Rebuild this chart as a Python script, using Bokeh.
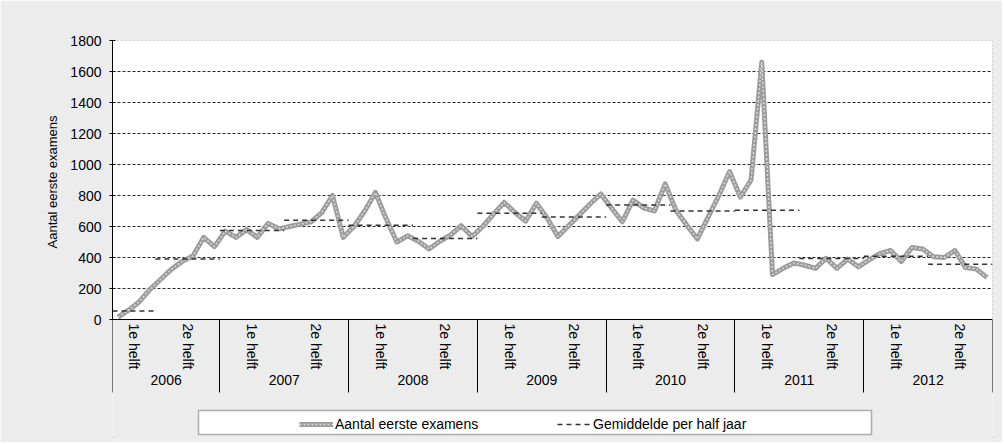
import numpy as np
import pandas as pd
from bokeh.plotting import figure
from bokeh.models import (Range1d, FixedTicker, LinearAxis, ColumnDataSource,
                          Legend, LegendItem, BoxAnnotation, Title)
from bokeh.embed import file_html
from bokeh.resources import INLINE

# ---------------- data ----------------
years = ["2006", "2007", "2008", "2009", "2010", "2011", "2012"]
half_names = ["1e helft", "2e helft"]
months_per_half = [4, 6, 6, 6, 6, 6, 6, 6, 6, 6, 6, 6, 6, 6]
months = [str(m) for m in pd.period_range("2006-03", "2012-12", freq="M")]

aantal = [
    # 2006 (mrt-dec)
    15, 60, 115, 195, 260, 325, 375, 410, 530, 470,
    # 2007
    570, 530, 580, 530, 620, 585, 600, 615, 630, 690, 800, 530,
    # 2008
    600, 700, 820, 650, 500, 540, 505, 455, 505, 545, 605, 535,
    # 2009
    600, 680, 755, 690, 635, 750, 655, 535, 605, 675, 745, 810,
    # 2010
    720, 630, 770, 720, 700, 875, 705, 610, 520, 660, 800, 955,
    # 2011
    790, 900, 1660, 290, 330, 365, 350, 330, 395, 330, 390, 340,
    # 2012
    385, 425, 445, 375, 465, 455, 405, 400, 445, 335, 325, 270,
]

gemiddelde = [55, 390, 575, 640, 608, 522, 686, 662, 738, 700, 705, 393, 408, 356]

y_ticks = list(range(0, 1801, 200))

FONT = "Liberation Sans"

# ---------------- layout constants (pixels) ----------------
W, H = 1002, 442
F_LEFT, F_RIGHT, F_TOP, F_BOTTOM = 112, 992, 40, 440   # frame incl. category area
ZERO_PX = 319                                          # pixel row of value 0
YEAR_AXIS_PX = 370                                     # pixel row of year axis
YMAX = 1800

# ---------------- derived positions ----------------
n = len(months)
xpos = np.arange(n) + 0.5
bounds = np.concatenate([[0], np.cumsum(months_per_half)])
half_start = bounds[:-1]
half_end = bounds[1:]
half_centers = (half_start + half_end) / 2
half_labels = [half_names[k % 2] for k in range(len(months_per_half))]
year_bounds = bounds[::2]
year_centers = (year_bounds[:-1] + year_bounds[1:]) / 2


def px_to_x(px):
    return (px - F_LEFT) * n / (F_RIGHT - F_LEFT)


def px_to_y(py):
    return (ZERO_PX - py) * YMAX / (ZERO_PX - F_TOP)


# ---------------- figure ----------------
p = figure(width=W, height=H, x_range=Range1d(0, n),
           y_range=Range1d(px_to_y(F_BOTTOM), YMAX),
           output_backend="svg", toolbar_location=None, x_axis_type=None,
           min_border_left=F_LEFT, min_border_right=W - F_RIGHT,
           min_border_top=F_TOP, min_border_bottom=H - F_BOTTOM)
p.border_fill_color = "#ececec"
p.background_fill_color = "#ececec"
p.outline_line_color = None
p.styles = {"outline": "1px solid #222", "outline-offset": "-5px"}

# white plot area with dotted border
plot_area = BoxAnnotation(left=0, right=n, bottom=0, top=YMAX, level="image",
                          fill_color="white", fill_alpha=1,
                          line_color="black", line_width=1, line_dash="2 2")
p.add_layout(plot_area)

# y axis
p.yaxis.ticker = FixedTicker(ticks=y_ticks)
p.yaxis.bounds = (0, YMAX)
p.yaxis.major_label_text_font = FONT
p.yaxis.major_label_text_font_size = "14px"
p.yaxis.major_label_text_color = "black"
p.yaxis.major_label_standoff = 8
p.yaxis.major_tick_in = 3
p.yaxis.major_tick_out = 3
p.yaxis.major_tick_line_color = "black"
p.yaxis.minor_tick_line_color = None
p.yaxis.axis_line_color = "black"

# y axis title, aligned with the value part of the axis
y_title = Title(text="Aantal eerste examens", align="right", offset=75,
                text_font=FONT, text_font_size="13px", text_font_style="normal",
                text_color="black", standoff=16)
p.add_layout(y_title, "left")

p.ygrid.grid_line_color = "black"
p.ygrid.grid_line_dash = "3 2"
p.ygrid.grid_line_alpha = 0.85

# category axes (halves + years), fixed inside the frame
ax_half = LinearAxis(
    fixed_location=0,
    ticker=FixedTicker(ticks=[float(c) for c in half_centers],
                       minor_ticks=[float(b) for b in year_bounds]),
    major_label_overrides={float(c): lab for c, lab in zip(half_centers, half_labels)},
    major_label_orientation="vertical",
    major_label_standoff=4,
    major_label_text_font=FONT, major_label_text_font_size="14px",
    major_label_text_color="black",
    axis_line_color="black",
    major_tick_line_color=None, major_tick_in=0, major_tick_out=0,
    minor_tick_line_color="black", minor_tick_in=-73, minor_tick_out=0,
)
ax_year = LinearAxis(
    fixed_location=px_to_y(YEAR_AXIS_PX),
    ticker=FixedTicker(ticks=[float(c) for c in year_centers], minor_ticks=[]),
    major_label_overrides={float(c): y for c, y in zip(year_centers, years)},
    major_label_standoff=4,
    major_label_text_font=FONT, major_label_text_font_size="14px",
    major_label_text_color="black",
    axis_line_color=None,
    major_tick_line_color=None, major_tick_in=0, major_tick_out=0,
    minor_tick_line_color=None,
)
p.add_layout(ax_half, "below")
p.add_layout(ax_year, "below")

# ---------------- series ----------------
src = ColumnDataSource(dict(x=xpos, y=aantal))
r_outer = p.line("x", "y", source=src, line_color="#9c9c9c", line_width=5,
                 line_join="round")
r_inner = p.line("x", "y", source=src, line_color="#d8d8d8", line_width=1.5,
                 line_dash="2 2")

avg_src = ColumnDataSource(dict(x0=half_start, x1=half_end, y=gemiddelde))
r_avg = p.segment(x0="x0", y0="y", x1="x1", y1="y", source=avg_src,
                  line_color="#333333", line_width=1.5, line_dash="5 4")

# ---------------- legend ----------------
box = BoxAnnotation(left=px_to_x(198), right=px_to_x(871),
                    top=px_to_y(410), bottom=px_to_y(434),
                    fill_color="white", fill_alpha=1,
                    line_color="black", line_width=1.5)
p.add_layout(box)

legend = Legend(
    items=[LegendItem(label="Aantal eerste examens", renderers=[r_outer, r_inner]),
           LegendItem(label="Gemiddelde per half jaar", renderers=[r_avg])],
    orientation="horizontal", location=(299 - F_LEFT, F_BOTTOM - 434), margin=0,
    padding=2, spacing=18, glyph_width=34, glyph_height=20,
    label_width=204, label_height=20, label_standoff=2,
    border_line_color=None, background_fill_alpha=0,
    label_text_font=FONT, label_text_font_size="14px", label_text_color="black",
)
p.add_layout(legend)

open("out.html", "w").write(file_html(p, INLINE))
